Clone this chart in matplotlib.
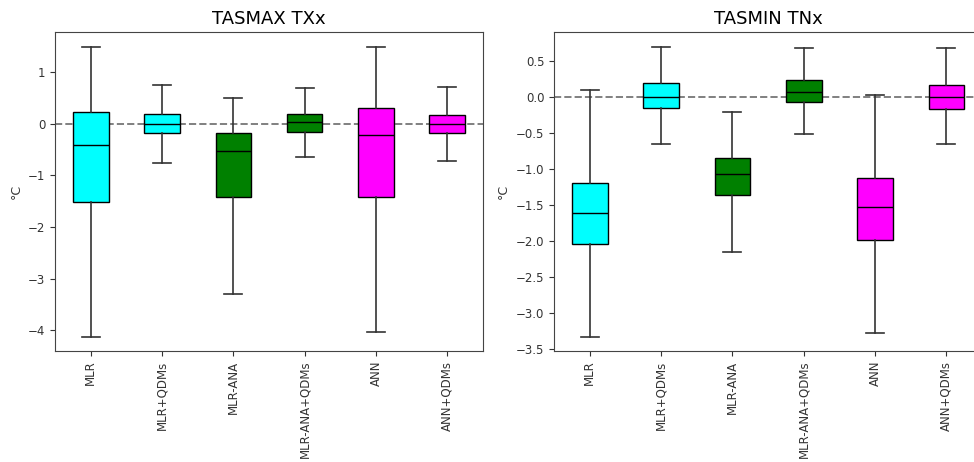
import matplotlib
matplotlib.use("Agg")
import matplotlib.pyplot as plt

methods = ["MLR", "MLR+QDMs", "MLR-ANA", "MLR-ANA+QDMs", "ANN", "ANN+QDMs"]
colors = ["cyan", "cyan", "green", "green", "magenta", "magenta"]

# TASMAX TXx
tx_whislo = [-4.12, -0.76, -3.30, -0.65, -4.03, -0.73]
tx_q1     = [-1.52, -0.19, -1.43, -0.155, -1.42, -0.19]
tx_med    = [-0.42, -0.01, -0.54, 0.03, -0.23, -0.01]
tx_q3     = [0.23, 0.18, -0.19, 0.18, 0.30, 0.17]
tx_whishi = [1.49, 0.74, 0.49, 0.685, 1.48, 0.71]

# TASMIN TNx
tn_whislo = [-3.33, -0.65, -2.16, -0.51, -3.28, -0.66]
tn_q1     = [-2.05, -0.155, -1.37, -0.075, -1.99, -0.165]
tn_med    = [-1.615, 0.0, -1.07, 0.065, -1.53, 0.0]
tn_q3     = [-1.19, 0.19, -0.845, 0.23, -1.13, 0.17]
tn_whishi = [0.10, 0.70, -0.215, 0.68, 0.03, 0.68]

fig = plt.figure(figsize=(9.74, 4.62), dpi=100)
ax1 = fig.add_axes([55/974, 111/462, 428/974, 319/462])
ax2 = fig.add_axes([554/974, 111/462, 428/974, 319/462])

def draw(ax, lo, q1, med, q3, hi, title):
    stats = []
    for i in range(len(methods)):
        stats.append(dict(label=methods[i], whislo=lo[i], q1=q1[i], med=med[i],
                          q3=q3[i], whishi=hi[i], fliers=[]))
    bp = ax.bxp(stats, patch_artist=True, showfliers=False,
                boxprops=dict(edgecolor="black", linewidth=1.0),
                medianprops=dict(color="black", linewidth=1.0),
                whiskerprops=dict(color="#333333", linewidth=1.2),
                capprops=dict(color="#333333", linewidth=1.2))
    for patch, c in zip(bp["boxes"], colors):
        patch.set_facecolor(c)
    ax.axhline(0, color="gray", linestyle="--", linewidth=1.4, zorder=0.5)
    ax.set_title(title, fontsize=13)
    ax.set_ylabel("°C", fontsize=9, color="#333333")
    ax.tick_params(axis="x", labelrotation=90)
    ax.tick_params(labelsize=8.5, colors="#333333")
    for s in ax.spines.values():
        s.set_color("#444444")

draw(ax1, tx_whislo, tx_q1, tx_med, tx_q3, tx_whishi, "TASMAX TXx")
draw(ax2, tn_whislo, tn_q1, tn_med, tn_q3, tn_whishi, "TASMIN TNx")

fig.savefig("out.png", dpi=100)
